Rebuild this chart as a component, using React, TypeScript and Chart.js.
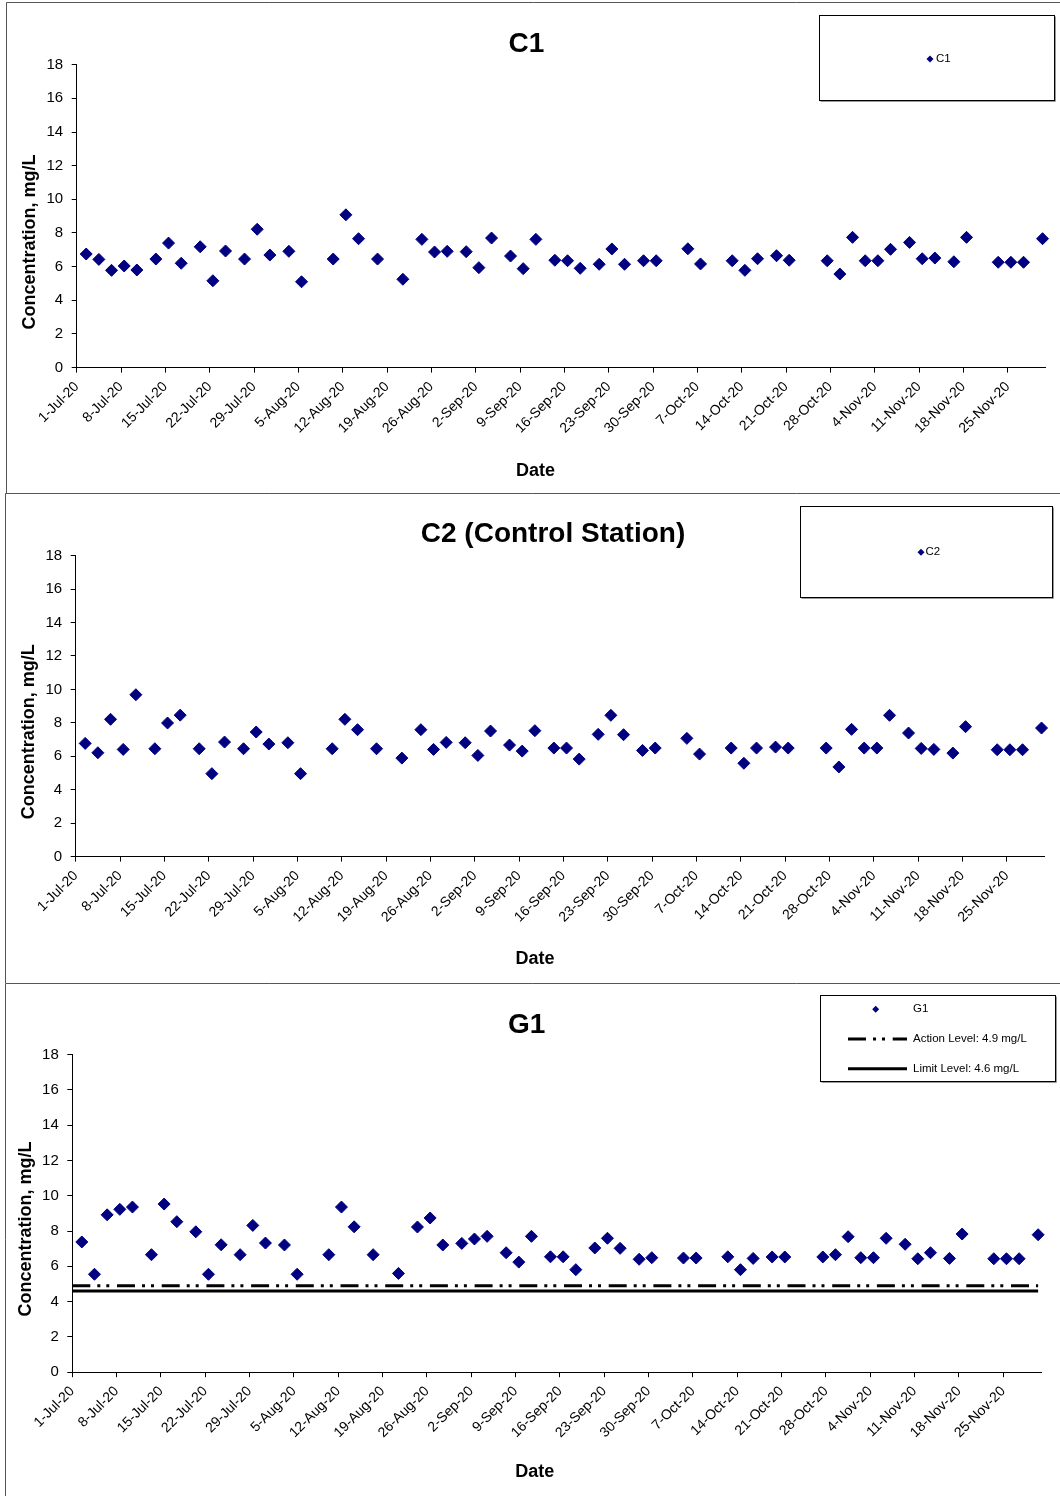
import React, { useEffect, useRef } from "react";
import { Chart, registerables } from "chart.js";

Chart.register(...registerables);

const FONT = "'Liberation Sans', Arial, Helvetica, sans-serif";
const NAVY = "#000080";
const MONTHS = ["Jan", "Feb", "Mar", "Apr", "May", "Jun", "Jul", "Aug", "Sep", "Oct", "Nov", "Dec"];

// ---- axis settings ----
const axisStart = "1-Jul-20";
const axisEnd = "1-Dec-20";
const tickStepDays = 7;
const yMin = 0;
const yMax = 18;
const yStep = 2;

// ---- sampling dates ----
const sampleDates = [
  "2-Jul-20", "4-Jul-20", "6-Jul-20", "8-Jul-20", "10-Jul-20", "13-Jul-20", "15-Jul-20", "17-Jul-20", "20-Jul-20", "22-Jul-20",
  "24-Jul-20", "27-Jul-20", "29-Jul-20", "31-Jul-20", "3-Aug-20", "5-Aug-20", "10-Aug-20", "12-Aug-20", "14-Aug-20", "17-Aug-20",
  "21-Aug-20", "24-Aug-20", "26-Aug-20", "28-Aug-20", "31-Aug-20", "2-Sep-20", "4-Sep-20", "7-Sep-20", "9-Sep-20", "11-Sep-20",
  "14-Sep-20", "16-Sep-20", "18-Sep-20", "21-Sep-20", "23-Sep-20", "25-Sep-20", "28-Sep-20", "30-Sep-20", "5-Oct-20", "7-Oct-20",
  "12-Oct-20", "14-Oct-20", "16-Oct-20", "19-Oct-20", "21-Oct-20", "27-Oct-20", "29-Oct-20", "31-Oct-20", "2-Nov-20", "4-Nov-20",
  "6-Nov-20", "9-Nov-20", "11-Nov-20", "13-Nov-20", "16-Nov-20", "18-Nov-20", "23-Nov-20", "25-Nov-20", "27-Nov-20", "30-Nov-20",
];

// ---- series values (mg/L) ----
const c1Values = [
  6.75, 6.43, 5.78, 6.04, 5.8, 6.45, 7.4, 6.2, 7.18, 5.16,
  6.93, 6.45, 8.22, 6.69, 6.91, 5.1, 6.45, 9.08, 7.66, 6.45,
  5.25, 7.62, 6.87, 6.91, 6.89, 5.94, 7.7, 6.63, 5.88, 7.62,
  6.38, 6.35, 5.9, 6.14, 7.05, 6.14, 6.35, 6.35, 7.06, 6.16,
  6.35, 5.78, 6.47, 6.65, 6.38, 6.35, 5.56, 7.74, 6.35, 6.35,
  7.03, 7.44, 6.47, 6.51, 6.29, 7.74, 6.26, 6.26, 6.26, 7.66,
];

const c2Values = [
  6.77, 6.21, 8.21, 6.41, 9.68, 6.45, 7.99, 8.46, 6.45, 4.96,
  6.85, 6.45, 7.45, 6.73, 6.81, 4.96, 6.45, 8.21, 7.59, 6.45,
  5.89, 7.59, 6.41, 6.83, 6.81, 6.05, 7.51, 6.67, 6.31, 7.53,
  6.49, 6.49, 5.83, 7.31, 8.45, 7.29, 6.35, 6.49, 7.07, 6.13,
  6.49, 5.58, 6.49, 6.55, 6.49, 6.49, 5.36, 7.61, 6.49, 6.49,
  8.45, 7.39, 6.47, 6.41, 6.19, 7.77, 6.39, 6.39, 6.39, 7.69,
];

const g1Values = [
  7.38, 5.55, 8.92, 9.23, 9.36, 6.66, 9.53, 8.53, 7.96, 5.55,
  7.22, 6.66, 8.32, 7.32, 7.21, 5.55, 6.66, 9.36, 8.24, 6.66,
  5.6, 8.23, 8.74, 7.21, 7.3, 7.55, 7.7, 6.77, 6.24, 7.7,
  6.54, 6.54, 5.81, 7.04, 7.59, 7.02, 6.4, 6.49, 6.47, 6.47,
  6.54, 5.81, 6.45, 6.53, 6.53, 6.53, 6.66, 7.68, 6.49, 6.49,
  7.59, 7.25, 6.43, 6.77, 6.45, 7.83, 6.43, 6.43, 6.43, 7.79,
];

const actionLevel = 4.9;
const limitLevel = 4.6;

// ---- helpers ----
const DAY = 86400000;
function parseDay(s: string): number {
  const [d, m, y] = s.split("-");
  return Date.UTC(2000 + Number(y), MONTHS.indexOf(m), Number(d)) / DAY;
}
const startDay = parseDay(axisStart);
const axisLength = parseDay(axisEnd) - startDay;
// each date occupies a one-day slot; the point sits in the middle of it
const sampleX = sampleDates.map((s) => parseDay(s) - startDay + 0.5);
function fmtDay(v: number): string {
  const d = new Date((startDay + v) * DAY);
  return `${d.getUTCDate()}-${MONTHS[d.getUTCMonth()]}-${String(d.getUTCFullYear()).slice(2)}`;
}
const points = (vals: number[]) => vals.map((y, i) => ({ x: sampleX[i], y }));
const levelLine = (v: number) => [
  { x: 0, y: v },
  { x: sampleX[sampleX.length - 1], y: v },
];

type LegendRow = { y: number; symX: number; textX: number; lineX1?: number; lineX2?: number };
type PanelSpec = {
  id: string;
  pageTop: number;
  height: number;
  area: { left: number; right: number; top: number; bottom: number };
  xAxisHeight: number;
  title: string;
  titleX: number;
  titleY: number;
  yTitleX: number;
  yTitleY: number;
  xTitleX: number;
  xTitleY: number;
  frameTop: number;
  frameLeft: number;
  legendBox: [number, number, number, number];
  legendRows: LegendRow[];
  datasets: any[];
};

const sampleStyle = {
  pointStyle: "rectRot",
  pointRadius: 6,
  pointHoverRadius: 6,
  backgroundColor: NAVY,
  borderColor: NAVY,
  borderWidth: 1,
  showLine: false,
  clip: false,
};

const panels: PanelSpec[] = [
  {
    id: "c1",
    pageTop: 0,
    height: 493,
    area: { left: 76.7, right: 1045.7, top: 64.7, bottom: 367.6 },
    xAxisHeight: 90,
    title: "C1",
    titleX: 526.5,
    titleY: 51.7,
    yTitleX: 30,
    yTitleY: 242,
    xTitleX: 535.5,
    xTitleY: 476,
    frameTop: 2.5,
    frameLeft: 6.5,
    legendBox: [819.5, 15.5, 1054.5, 100.5],
    legendRows: [{ y: 59, symX: 930, textX: 936 }],
    datasets: [{ label: "C1", data: points(c1Values), ...sampleStyle }],
  },
  {
    id: "c2",
    pageTop: 493,
    height: 490,
    area: { left: 75.7, right: 1044.7, top: 62.6, bottom: 363.6 },
    xAxisHeight: 90,
    title: "C2 (Control Station)",
    titleX: 553,
    titleY: 48.7,
    yTitleX: 28.7,
    yTitleY: 238.7,
    xTitleX: 535,
    xTitleY: 471,
    frameTop: 0.5,
    frameLeft: 5.5,
    legendBox: [800.5, 13.5, 1052.5, 104.5],
    legendRows: [{ y: 59.3, symX: 921, textX: 925.5 }],
    datasets: [{ label: "C2", data: points(c2Values), ...sampleStyle }],
  },
  {
    id: "g1",
    pageTop: 983,
    height: 513,
    area: { left: 72.3, right: 1041.3, top: 71.6, bottom: 389.2 },
    xAxisHeight: 90,
    title: "G1",
    titleX: 526.7,
    titleY: 50.3,
    yTitleX: 26,
    yTitleY: 246,
    xTitleX: 534.7,
    xTitleY: 493.7,
    frameTop: 0.5,
    frameLeft: 5.5,
    legendBox: [820.5, 12.5, 1055.5, 98.5],
    legendRows: [
      { y: 26.3, symX: 875.7, textX: 913 },
      { y: 56, symX: 877, textX: 913, lineX1: 848, lineX2: 907 },
      { y: 85.7, symX: 877, textX: 913, lineX1: 848, lineX2: 907 },
    ],
    datasets: [
      { label: "G1", data: points(g1Values), ...sampleStyle },
      {
        label: `Action Level: ${actionLevel} mg/L`,
        data: levelLine(actionLevel),
        showLine: true,
        pointRadius: 0,
        pointHoverRadius: 0,
        borderColor: "#000",
        backgroundColor: "#000",
        borderWidth: 3,
        borderDash: [18, 7, 3, 6, 3, 7.7],
      },
      {
        label: `Limit Level: ${limitLevel} mg/L`,
        data: levelLine(limitLevel),
        showLine: true,
        pointRadius: 0,
        pointHoverRadius: 0,
        borderColor: "#000",
        backgroundColor: "#000",
        borderWidth: 3,
      },
    ],
  },
];

function diamond(ctx: CanvasRenderingContext2D, x: number, y: number, r: number) {
  ctx.beginPath();
  ctx.moveTo(x, y - r);
  ctx.lineTo(x + r, y);
  ctx.lineTo(x, y + r);
  ctx.lineTo(x - r, y);
  ctx.closePath();
  ctx.fill();
}

function decorPlugin(spec: PanelSpec) {
  return {
    id: "decor",
    beforeDraw(chart: any) {
      const ctx: CanvasRenderingContext2D = chart.ctx;
      ctx.save();
      ctx.fillStyle = "#fff";
      ctx.fillRect(0, 0, chart.width, chart.height);
      ctx.strokeStyle = "#555";
      ctx.lineWidth = 1;
      ctx.beginPath();
      ctx.moveTo(spec.frameLeft, spec.frameTop);
      ctx.lineTo(chart.width, spec.frameTop);
      ctx.moveTo(spec.frameLeft, spec.frameTop);
      ctx.lineTo(spec.frameLeft, chart.height);
      ctx.stroke();
      ctx.restore();
    },
    afterDraw(chart: any) {
      const ctx: CanvasRenderingContext2D = chart.ctx;
      ctx.save();
      ctx.fillStyle = "#000";
      // chart title
      ctx.font = `bold 28px ${FONT}`;
      ctx.textAlign = "center";
      ctx.textBaseline = "alphabetic";
      ctx.fillText(spec.title, spec.titleX, spec.titleY);
      // x axis title
      ctx.font = `bold 18px ${FONT}`;
      ctx.fillText("Date", spec.xTitleX, spec.xTitleY);
      // y axis title
      ctx.save();
      ctx.translate(spec.yTitleX, spec.yTitleY);
      ctx.rotate(-Math.PI / 2);
      ctx.textBaseline = "middle";
      ctx.fillText("Concentration, mg/L", 0, 0);
      ctx.restore();

      // legend
      const [x1, y1, x2, y2] = spec.legendBox;
      ctx.fillStyle = "#fff";
      ctx.fillRect(x1, y1, x2 - x1, y2 - y1);
      ctx.strokeStyle = "#999";
      ctx.lineWidth = 1;
      ctx.beginPath();
      ctx.moveTo(x1 + 1, y2 + 1);
      ctx.lineTo(x2 + 1, y2 + 1);
      ctx.lineTo(x2 + 1, y1 + 1);
      ctx.stroke();
      ctx.strokeStyle = "#000";
      ctx.strokeRect(x1, y1, x2 - x1, y2 - y1);

      ctx.font = `11.5px ${FONT}`;
      ctx.textAlign = "left";
      ctx.textBaseline = "middle";
      chart.data.datasets.forEach((ds: any, i: number) => {
        const row = spec.legendRows[i];
        if (!row) return;
        if (ds.showLine) {
          ctx.save();
          ctx.strokeStyle = ds.borderColor;
          ctx.lineWidth = ds.borderWidth;
          ctx.setLineDash(ds.borderDash || []);
          ctx.beginPath();
          ctx.moveTo(row.lineX1!, row.y);
          ctx.lineTo(row.lineX2!, row.y);
          ctx.stroke();
          ctx.restore();
        } else {
          ctx.fillStyle = ds.backgroundColor;
          diamond(ctx, row.symX, row.y, 3.5);
        }
        ctx.fillStyle = "#000";
        ctx.fillText(ds.label, row.textX, row.y);
      });
      ctx.restore();
    },
  };
}

function buildConfig(spec: PanelSpec): any {
  const W = 1060;
  const { area } = spec;
  const axisGrid = {
    display: true,
    drawOnChartArea: false,
    drawTicks: true,
    tickLength: 5,
    color: "#000",
    lineWidth: 1,
  };
  const axisBorder = { display: true, color: "#000", width: 1 };
  return {
    type: "scatter",
    data: { datasets: spec.datasets },
    plugins: [decorPlugin(spec)],
    options: {
      responsive: false,
      animation: false,
      devicePixelRatio: 1,
      events: [],
      layout: {
        autoPadding: false,
        padding: {
          left: 0,
          top: area.top,
          right: W - area.right,
          bottom: spec.height - area.bottom - spec.xAxisHeight,
        },
      },
      plugins: {
        legend: { display: false },
        title: { display: false },
        tooltip: { enabled: false },
      },
      scales: {
        x: {
          type: "linear",
          position: "bottom",
          min: 0,
          max: axisLength,
          bounds: "data",
          afterBuildTicks: (s: any) => {
            s.ticks = s.ticks.filter((t: any) => t.value % tickStepDays === 0 && t.value < axisLength);
          },
          afterFit: (s: any) => {
            s.height = spec.xAxisHeight;
          },
          ticks: {
            stepSize: tickStepDays,
            autoSkip: false,
            maxRotation: 45,
            minRotation: 45,
            padding: 6,
            color: "#000",
            font: { family: FONT, size: 14 },
            callback: (v: any) => fmtDay(Number(v)),
          },
          grid: axisGrid,
          border: axisBorder,
        },
        y: {
          type: "linear",
          position: "left",
          min: yMin,
          max: yMax,
          afterFit: (s: any) => {
            s.width = area.left;
          },
          ticks: {
            stepSize: yStep,
            padding: 8.5,
            color: "#000",
            font: { family: FONT, size: 15 },
          },
          grid: axisGrid,
          border: axisBorder,
        },
      },
    },
  };
}

function Panel({ spec }: { spec: PanelSpec }) {
  const ref = useRef<HTMLCanvasElement>(null);
  useEffect(() => {
    if (!ref.current) return;
    const chart = new Chart(ref.current, buildConfig(spec));
    return () => chart.destroy();
  }, [spec]);
  return (
    <canvas
      ref={ref}
      width={1060}
      height={spec.height}
      style={{
        position: "absolute",
        left: 0,
        top: spec.pageTop,
        width: 1060,
        height: spec.height,
        display: "block",
      }}
    />
  );
}

export default function App() {
  return (
    <div
      style={{
        position: "absolute",
        left: 0,
        top: 0,
        width: 1060,
        height: 1496,
        background: "#fff",
        overflow: "hidden",
      }}
    >
      {panels.map((p) => (
        <Panel key={p.id} spec={p} />
      ))}
    </div>
  );
}
